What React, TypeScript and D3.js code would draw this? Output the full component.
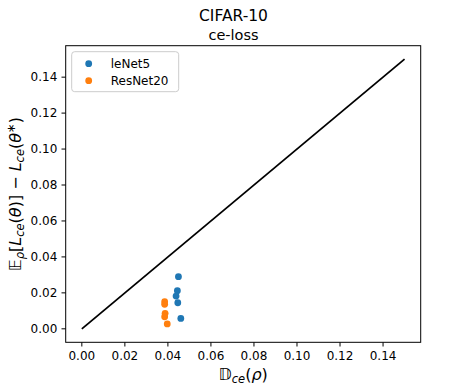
import React from "react";
import * as d3 from "d3";

// values
const leNetX = [0.0449, 0.0444, 0.0438, 0.0446, 0.046];
const leNetY = [0.029, 0.0212, 0.0182, 0.0145, 0.0058];
const resNetX = [0.0385, 0.0385, 0.0387, 0.0385, 0.0397];
const resNetY = [0.0151, 0.0136, 0.0086, 0.0067, 0.0027];
const diagonal = [0, 0.15];
const tickValues = [0, 0.02, 0.04, 0.06, 0.08, 0.1, 0.12, 0.14];
const seriesNames = ["leNet5", "ResNet20"];
const colors = ["#1f77b4", "#ff7f0e"];

const width = 467;
const height = 389;
const margin = { top: 45.7, right: 46.3, bottom: 46.7, left: 65.7 };
const font = "DejaVu Sans, sans-serif";

export default function App() {
  const x = d3
    .scaleLinear()
    .domain([-0.0075, 0.1575])
    .range([margin.left, width - margin.right]);
  const y = d3
    .scaleLinear()
    .domain([-0.0075, 0.1575])
    .range([height - margin.bottom, margin.top]);

  const line = d3
    .line<number>()
    .x((d) => x(d))
    .y((d) => y(d));

  const series = [
    leNetX.map((v, i) => [v, leNetY[i]]),
    resNetX.map((v, i) => [v, resNetY[i]]),
  ];

  const x0 = margin.left;
  const x1 = width - margin.right;
  const y0 = height - margin.bottom;
  const y1 = margin.top;
  const fmt = d3.format(".2f");

  return (
    <svg
      width={width}
      height={height}
      style={{ position: "absolute", left: 0, top: 0, background: "#fff" }}
      fontFamily={font}
    >
      {/* titles */}
      <text x={width / 2} y={21} textAnchor="middle" fontSize={15.5}>
        CIFAR-10
      </text>
      <text x={width / 2} y={40} textAnchor="middle" fontSize={14.5}>
        ce-loss
      </text>

      {/* diagonal */}
      <path d={line(diagonal) || ""} stroke="#000" strokeWidth={1.8} fill="none" />

      {/* points */}
      {series.map((pts, s) =>
        pts.map((p, i) => (
          <circle key={s + "-" + i} cx={x(p[0])} cy={y(p[1])} r={3.4} fill={colors[s]} />
        ))
      )}

      {/* frame */}
      <rect x={x0} y={y1} width={x1 - x0} height={y0 - y1} fill="none" stroke="#000" strokeWidth={1} />

      {/* x ticks */}
      {tickValues.map((t) => (
        <g key={"x" + t}>
          <line x1={x(t)} x2={x(t)} y1={y0} y2={y0 + 4.2} stroke="#000" strokeWidth={1} />
          <text x={x(t)} y={y0 + 17.3} textAnchor="middle" fontSize={12}>
            {fmt(t)}
          </text>
        </g>
      ))}

      {/* y ticks */}
      {tickValues.map((t) => (
        <g key={"y" + t}>
          <line x1={x0 - 4.2} x2={x0} y1={y(t)} y2={y(t)} stroke="#000" strokeWidth={1} />
          <text x={x0 - 8.4} y={y(t)} dy="0.35em" textAnchor="end" fontSize={12}>
            {fmt(t)}
          </text>
        </g>
      ))}

      {/* x label */}
      <text x={(x0 + x1) / 2} y={380} textAnchor="middle" fontSize={16}>
        <tspan>𝔻</tspan>
        <tspan fontStyle="italic" fontSize={11.5} dy={3}>ce</tspan>
        <tspan dy={-3}>(</tspan>
        <tspan fontStyle="italic">ρ</tspan>
        <tspan>)</tspan>
      </text>

      {/* y label */}
      <text
        transform={`translate(21,${(y0 + y1) / 2}) rotate(-90)`}
        textAnchor="middle"
        fontSize={16}
      >
        <tspan>𝔼</tspan>
        <tspan fontStyle="italic" fontSize={11.5} dy={3}>ρ</tspan>
        <tspan dy={-3}>[</tspan>
        <tspan fontStyle="italic">L</tspan>
        <tspan fontStyle="italic" fontSize={11.5} dy={3}>ce</tspan>
        <tspan dy={-3}>(</tspan>
        <tspan fontStyle="italic">θ</tspan>
        <tspan>)] − </tspan>
        <tspan fontStyle="italic">L</tspan>
        <tspan fontStyle="italic" fontSize={11.5} dy={3}>ce</tspan>
        <tspan dy={-3}>(</tspan>
        <tspan fontStyle="italic">θ</tspan>
        <tspan fontSize={11.5} dy={-6}>∗</tspan>
        <tspan dy={6}>)</tspan>
      </text>

      {/* legend */}
      <g transform={`translate(${x0 + 6},${y1 + 6})`}>
        <rect
          width={107}
          height={40}
          rx={3}
          fill="#fff"
          fillOpacity={0.8}
          stroke="#cccccc"
          strokeWidth={1}
        />
        {seriesNames.map((name, i) => (
          <g key={name} transform={`translate(0,${12 + i * 17})`}>
            <circle cx={17} cy={0} r={3.4} fill={colors[i]} />
            <text x={39} y={0} dy="0.35em" fontSize={12}>
              {name}
            </text>
          </g>
        ))}
      </g>
    </svg>
  );
}
